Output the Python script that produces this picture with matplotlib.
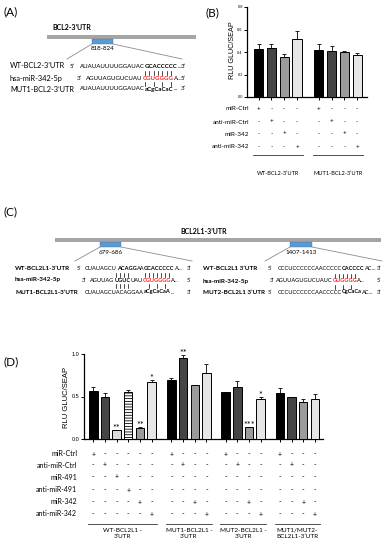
import matplotlib
matplotlib.use("Agg")
import matplotlib.pyplot as plt
import matplotlib.transforms as mtransforms
from matplotlib.patches import Rectangle
import numpy as np

plt.rcParams['font.family'] = ['Lato', 'DejaVu Sans']
plt.rcParams['hatch.linewidth'] = 0.6

# panel B data
b_groups = ["WT-BCL2-3’UTR", "MUT1-BCL2-3’UTR"]
b_rows = ["miR-Ctrl", "anti-miR-Ctrl", "miR-342", "anti-miR-342"]
b_treat = [[0, 1, 2, 3], [0, 1, 2, 3]]
b_values = [[0.43, 0.44, 0.355, 0.515], [0.42, 0.405, 0.40, 0.37]]
b_errors = [[0.04, 0.035, 0.025, 0.07], [0.05, 0.05, 0.005, 0.02]]

# panel D data
d_groups = ["WT-BCL2L1 -\n3’UTR", "MUT1-BCL2L1 -\n3’UTR",
            "MUT2-BCL2L1 -\n3’UTR", "MUT1/MUT2-\nBCL2L1-3’UTR"]
d_rows = ["miR-Ctrl", "anti-miR-Ctrl", "miR-491", "anti-miR-491",
          "miR-342", "anti-miR-342"]
d_treat = [[0, 1, 2, 3, 4, 5], [0, 1, 4, 5], [0, 1, 4, 5], [0, 1, 4, 5]]
d_values = [[0.57, 0.49, 0.105, 0.555, 0.135, 0.67],
            [0.69, 0.95, 0.63, 0.78],
            [0.55, 0.61, 0.14, 0.47],
            [0.54, 0.49, 0.44, 0.475]]
d_errors = [[0.04, 0.05, 0.005, 0.02, 0.005, 0.03],
            [0.025, 0.04, 0.01, 0.10],
            [0.0, 0.07, 0.0, 0.025],
            [0.06, 0.008, 0.03, 0.055]]
d_stars = [["", "", "**", "", "**", "*"], ["", "**", "", ""],
           ["", "", "***", "*"], ["", "", "", ""]]

fill = {"miR-Ctrl": "#000000", "anti-miR-Ctrl": "#454545", "miR-491": "#dcdcdc",
        "anti-miR-491": "#ffffff", "miR-342": "#9b9b9b", "anti-miR-342": "#e6e6e6"}
hatch = {"anti-miR-491": "------"}

W, H = 386, 550
fig = plt.figure(figsize=(3.86, 5.5), dpi=100)
ax0 = fig.add_axes([0, 0, 1, 1])
ax0.set_xlim(0, W)
ax0.set_ylim(H, 0)
ax0.axis('off')
ax0.patch.set_visible(False)


def px_axes(l, t, r, b):
    ax = fig.add_axes([l / W, 1 - b / H, (r - l) / W, (b - t) / H])
    ax.patch.set_visible(False)
    return ax


def bar_panel(ax, starts, values, errors, treats, rows, stars, ymax, yticks, tsize):
    allpos = []
    for g, start in enumerate(starts):
        pos = start + np.arange(len(values[g]))
        allpos.extend(pos)
        names = [rows[t] for t in treats[g]]
        bars = ax.bar(pos, values[g], width=0.72, color=[fill[n] for n in names],
                      edgecolor='black', linewidth=0.7, zorder=3)
        for b, n in zip(bars, names):
            b.set_hatch(hatch.get(n, ''))
        ax.errorbar(pos, values[g], yerr=[np.zeros(len(pos)), errors[g]], fmt='none',
                    ecolor='#222222', elinewidth=0.7, capsize=1.6, capthick=0.7, zorder=2)
        if stars is not None:
            for p, v, e, s in zip(pos, values[g], errors[g], stars[g]):
                if s:
                    ax.text(p, v + e - 0.012 * ymax, s, ha='center', va='baseline',
                            fontsize=6.5, clip_on=False)
    ax.set_ylim(0, ymax)
    ax.set_yticks(yticks)
    ax.set_yticklabels(["%.1f" % t for t in yticks], family='Liberation Sans',
                       fontsize=tsize)
    ax.set_xticks(allpos)
    ax.set_xticklabels([])
    ax.tick_params(axis='both', length=2, width=0.7, pad=1)
    for s in ['top', 'right']:
        ax.spines[s].set_visible(False)
    for s in ['left', 'bottom']:
        ax.spines[s].set_linewidth(0.9)
    return allpos


def table(ax, starts, treats, rows, values, row_y, label_x, line_y, groups, group_y,
          size, gsize):
    tr = mtransforms.blended_transform_factory(ax.transData, ax0.transData)
    for i, r in enumerate(rows):
        ax0.text(label_x, row_y[i], r, ha='right', va='center', fontsize=size)
    for g, start in enumerate(starts):
        pos = start + np.arange(len(values[g]))
        for j, p in enumerate(pos):
            for i in range(len(rows)):
                mark = '+' if treats[g][j] == i else '-'
                ax0.text(p, row_y[i], mark, transform=tr, ha='center', va='center',
                         fontsize=size, clip_on=False)
        ax0.plot([pos[0] - 0.45, pos[-1] + 0.45], [line_y, line_y], transform=tr,
                 color='#333333', lw=0.6, clip_on=False)
        ax0.text((pos[0] + pos[-1]) / 2, group_y, groups[g], transform=tr, ha='center',
                 va='top', fontsize=gsize, linespacing=1.35, clip_on=False)


# ---- panel B
axB = px_axes(247, 7, 367, 97)
b_starts = [0, 4.7]
bar_panel(axB, b_starts, b_values, b_errors, b_treat, b_rows, None, 0.8,
          [0, 0.2, 0.4, 0.6, 0.8], 2.8)
axB.set_xlim(-0.91, 8.46)
ax0.text(232, 50, "RLU GLUC/SEAP", rotation=90, ha='center', va='center',
         fontsize=5.2, family='Liberation Sans')
table(axB, b_starts, b_treat, b_rows, b_values, [109, 122, 134, 147], 249, 155,
      b_groups, 171, 4.6, 4.1)

# ---- panel D
axD = px_axes(84, 354, 323, 439)
d_starts = [0, 6.7, 11.35, 16.0]
bar_panel(axD, d_starts, d_values, d_errors, d_treat, d_rows, d_stars, 1.0,
          [0, 0.5, 1.0], 4)
axD.set_xlim(-0.8, 19.7)
ax0.text(67, 397, "RLU GLUC/SEAP", rotation=90, ha='center', va='center',
         fontsize=5.5, family='Liberation Sans')
table(axD, d_starts, d_treat, d_rows, d_values, [454, 465, 477, 490, 502, 514], 77,
      524, d_groups, 528, 5.0, 4.6)

# ---- panel labels
for lab, x, y in [("(A)", 4, 12), ("(B)", 206, 13), ("(C)", 4, 212), ("(D)", 3, 362)]:
    ax0.text(x, y, lab, fontsize=8.5, ha='left', va='center')


# ---- UTR diagrams
def utr(x0, x1, y, boxes, title, tx, ty):
    ax0.add_patch(Rectangle((x0, y), x1 - x0, 4, color='#a5a5a5', lw=0))
    ax0.text(tx, ty, title, fontsize=5, weight='bold', ha='center', va='center')
    for bx, bw, lab, lx0, lx1, ly in boxes:
        ax0.add_patch(Rectangle((bx, y + 4), bw, 5, facecolor='#5b9bd5',
                                edgecolor='#41719c', lw=0.3))
        ax0.text(bx + bw / 2, y + 14, lab, fontsize=4.5, ha='center', va='center')
        ax0.plot([bx, lx0], [y + 9, ly], color='#8c8c8c', lw=0.6)
        ax0.plot([bx + bw, lx1], [y + 9, ly], color='#8c8c8c', lw=0.6)


utr(47, 196, 35, [(92, 21, "818-824", 67, 182, 59)], "BCL2-3’UTR", 72, 28)
utr(55, 381, 238, [(100, 21, "679-686", 75, 192, 261),
                   (290, 22, "1407-1413", 265, 382, 261)], "BCL2L1-3’UTR", 204, 232)


def seq_row(x, y, parts, size):
    arts = []
    t = None
    for s, color, weight in parts:
        if t is None:
            t = ax0.text(x, y, s, fontsize=size, color=color, weight=weight,
                         va='center', ha='left')
        else:
            t = ax0.annotate(s, xy=(1, 0), xycoords=t, fontsize=size, color=color,
                             weight=weight, va='bottom', ha='left')
        arts.append(t)
    return arts


K, R = 'black', '#ff2020'
n, b = 'normal', 'bold'

# panel A sequences
fs = 4.4
ax0.text(10, 66, "WT-BCL2-3’UTR", fontsize=5.3, va='center')
ax0.text(10, 78, "hsa-miR-342-5p", fontsize=5.3, va='center')
ax0.text(10, 89, "MUT1-BCL2-3’UTR", fontsize=5.3, va='center')
ax0.text(70, 66, "5’", fontsize=fs, va='center')
ax0.text(77, 78, "3’", fontsize=fs, va='center')
ax0.text(181, 66, "3’", fontsize=fs, va='center')
ax0.text(181, 78, "5’", fontsize=fs, va='center')
ax0.text(181, 89, "3’", fontsize=fs, va='center')
seq_row(80, 66, [("AUAUAUUUUGGAUAC", K, n), ("GCACCCCC", K, b), ("...", K, n)], fs)
a_mir = seq_row(86, 78, [("AGUUAGUGUCUAU", K, n), ("CGUGGGG", R, b), ("A...", K, n)], fs)
seq_row(80, 89, [("AUAUAUUUUGGAUAC", K, n), ("aCgCaCaC", K, b), ("...", K, n)], fs)

# panel C sequences
fs = 4.1
for y, lab in [(268, "WT-BCL2L1-3’UTR"), (280, "hsa-miR-342-5p"),
               (292, "MUT1-BCL2L1-3’UTR")]:
    ax0.text(15, y, lab, fontsize=4.6, weight='bold', va='center')
for y, lab in [(269, "WT-BCL2L1 3’UTR"), (281, "hsa-miR-342-5p"),
               (292, "MUT2-BCL2L1 3’UTR")]:
    ax0.text(203, y, lab, fontsize=4.6, weight='bold', va='center')
for x, y, s in [(77, 268, "5’"), (82, 280, "3’"), (187, 268, "3’"), (187, 280, "5’"),
                (187, 292, "3’"), (268, 269, "5’"), (270, 281, "3’"), (268, 292, "5’"),
                (377, 269, "3’"), (377, 281, "5’"), (377, 292, "3’")]:
    ax0.text(x, y, s, fontsize=fs, va='center')
seq_row(85, 268, [("CUAUAGCU", K, n), ("ACAGG", K, b), ("AA", K, n),
                  ("GCACCCCC", K, b), ("A...", K, n)], fs)
c_mir = seq_row(90, 280, [("AGUUAG", K, n), ("UGUC", K, b), ("UAU", K, n),
                          ("CGUGGGG", R, b), ("A...", K, n)], fs)
seq_row(85, 292, [("CUAUAGCUACAGGAA", K, n), ("aCgCaCaA", K, b), ("...", K, n)], fs)
seq_row(278, 269, [("CCCUCCCCCCAACCCCC", K, n), ("CACCCC", K, b), ("AC...", K, n)], fs)
r_mir = seq_row(276, 281, [("AGUUAGUGUCUAUC", K, n), ("GUGGGG", R, b), ("A...", K, n)], fs)
seq_row(278, 292, [("CCCUCCCCCCAACCCCC", K, n), ("CgCaCa", K, b), ("AC...", K, n)], fs)

fig.canvas.draw()


def pair_lines(seg, idx, n_chars, y0, y1):
    bb = seg.get_window_extent()
    inv = ax0.transData.inverted()
    (x0, _), (x1, _) = inv.transform([[bb.x0, bb.y0], [bb.x1, bb.y1]])
    step = (x1 - x0) / n_chars
    for i in idx:
        xc = x0 + (i + 0.5) * step
        ax0.plot([xc, xc], [y0, y1], color='black', lw=0.5)


pair_lines(a_mir[1], range(7), 7, 70.5, 74.5)
pair_lines(a_mir[1], [0, 2, 4, 6], 7, 82, 85.5)
pair_lines(c_mir[1], range(4), 4, 272.5, 276.5)
pair_lines(c_mir[3], range(7), 7, 272.5, 276.5)
pair_lines(c_mir[1], range(4), 4, 284, 288)
pair_lines(c_mir[3], [1, 3, 5], 7, 284, 288)
pair_lines(r_mir[1], range(6), 6, 273.5, 277.5)
pair_lines(r_mir[1], [0, 2, 4], 6, 285, 288.5)

fig.savefig("out.png", dpi=100)
